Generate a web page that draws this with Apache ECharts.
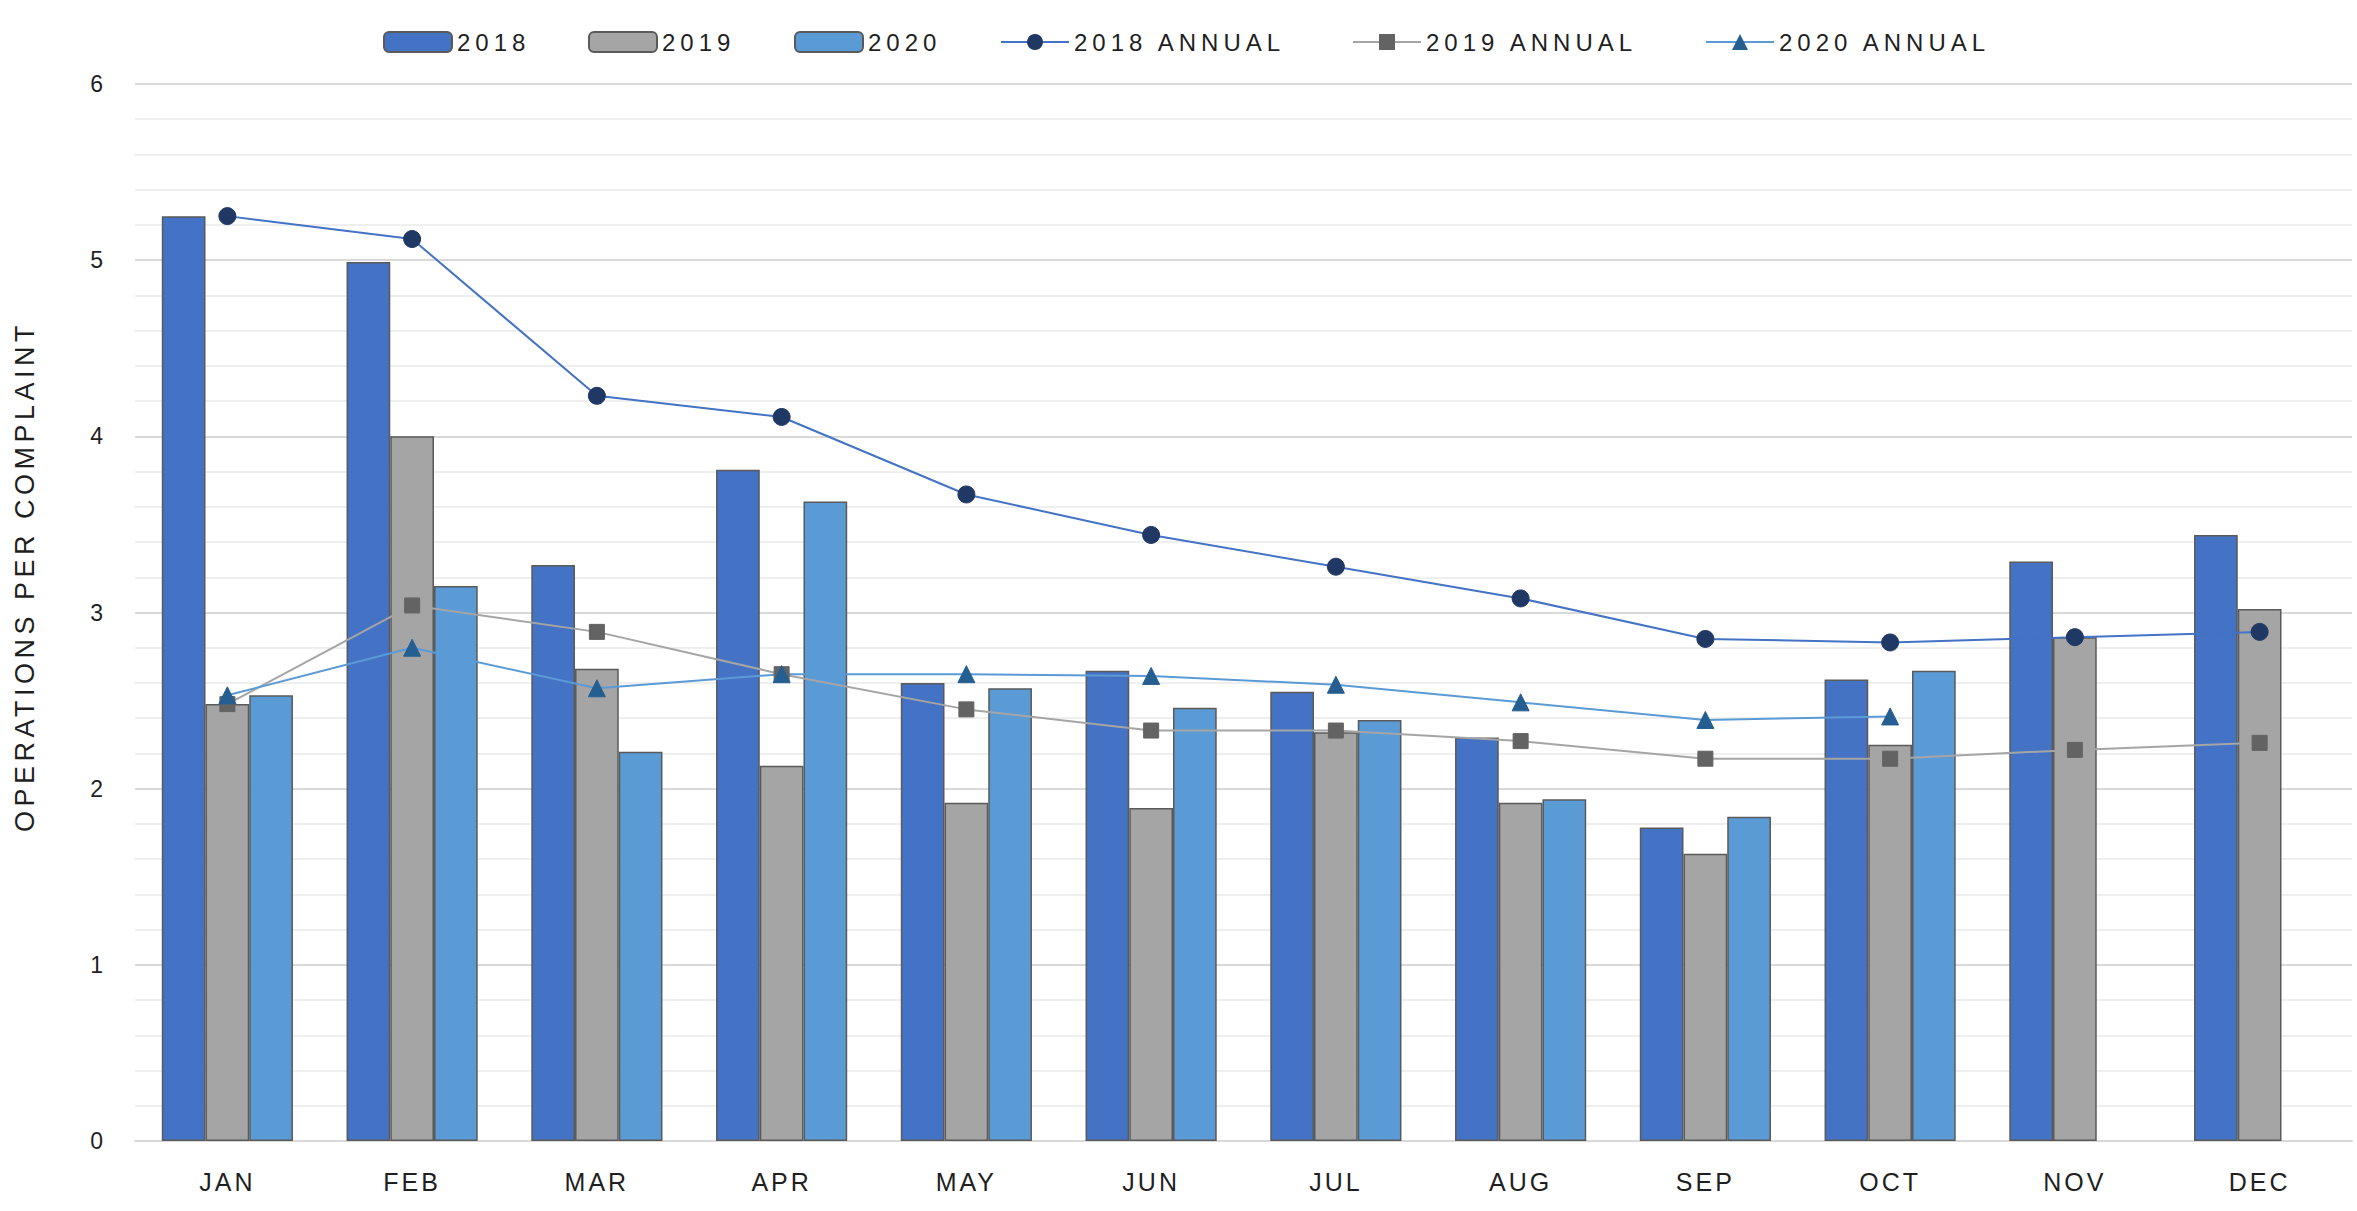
<!DOCTYPE html>
<html>
<head>
<meta charset="utf-8">
<script src="https://cdn.jsdelivr.net/npm/echarts@6/dist/echarts.min.js"></script>
<style>
  html, body { margin: 0; padding: 0; background: #ffffff; }
  #main { width: 2357px; height: 1211px; }
  #main text[style*="24px"] { letter-spacing: 5px; }
  #main text[style*="25px"] { letter-spacing: 3px; }
  #main text[style*="27px"] { letter-spacing: 4.5px; }
</style>
</head>
<body>
<div id="main"></div>
<script>
const categories = ['JAN','FEB','MAR','APR','MAY','JUN','JUL','AUG','SEP','OCT','NOV','DEC'];
const bar2018 = [5.25, 4.99, 3.27, 3.81, 2.60, 2.67, 2.55, 2.29, 1.78, 2.62, 3.29, 3.44];
const bar2019 = [2.48, 4.00, 2.68, 2.13, 1.92, 1.89, 2.32, 1.92, 1.63, 2.25, 2.86, 3.02];
const bar2020 = [2.53, 3.15, 2.21, 3.63, 2.57, 2.46, 2.39, 1.94, 1.84, 2.67, null, null];
const annual2018 = [5.25, 5.12, 4.23, 4.11, 3.67, 3.44, 3.26, 3.08, 2.85, 2.83, 2.86, 2.89];
const annual2019 = [2.48, 3.04, 2.89, 2.65, 2.45, 2.33, 2.33, 2.27, 2.17, 2.17, 2.22, 2.26];
const annual2020 = [2.53, 2.80, 2.57, 2.65, 2.65, 2.64, 2.59, 2.49, 2.39, 2.41, null, null];
const yTicks = [0, 1, 2, 3, 4, 5, 6];

const FONT = 'Liberation Sans';
const chart = echarts.init(document.getElementById('main'), null, { renderer: 'svg' });

const legendLefts = [378, 583, 789, 995, 1347, 1700];
const names = ['2018', '2019', '2020', '2018 ANNUAL', '2019 ANNUAL', '2020 ANNUAL'];
const legends = names.map((n, i) => ({
  data: [n],
  left: legendLefts[i],
  top: 25,
  itemWidth: 68,
  itemHeight: 20,
  selectedMode: false,
  textStyle: { fontFamily: FONT, fontSize: 24, color: '#1f1f1f' }
}));

function barSeries(name, data, color) {
  return {
    name, type: 'bar', data,
    barGap: '0%', barCategoryGap: '29%',
    itemStyle: { color, borderColor: '#5a5a5a', borderWidth: 1.5 },
    emphasis: { disabled: true }
  };
}
function lineSeries(name, data, lineColor, symbol, symColor, size) {
  return {
    name, type: 'line', data, symbol, symbolSize: size,
    lineStyle: { color: lineColor, width: 2 },
    itemStyle: { color: symColor, borderColor: symColor },
    connectNulls: false, z: 5,
    emphasis: { disabled: true }
  };
}

chart.setOption({
  animation: false,
  backgroundColor: '#ffffff',
  legend: legends,
  grid: { left: 135, right: 5, top: 84, bottom: 70 },
  xAxis: {
    type: 'category', data: categories,
    axisLine: { show: true, lineStyle: { color: '#d9d9d9', width: 2 } },
    axisTick: { show: false },
    axisLabel: { fontFamily: FONT, fontSize: 25, color: '#1f1f1f', margin: 28 }
  },
  yAxis: {
    type: 'value', min: yTicks[0], max: yTicks[yTicks.length - 1], interval: 1,
    name: 'OPERATIONS PER COMPLAINT',
    nameLocation: 'middle', nameGap: 97, nameRotate: 90,
    nameTextStyle: { fontFamily: FONT, fontSize: 27, color: '#1f1f1f', padding: [0, 0, 0, 72] },
    axisLine: { show: false }, axisTick: { show: false },
    axisLabel: { fontFamily: FONT, fontSize: 23, color: '#1f1f1f', margin: 32 },
    splitLine: { show: true, lineStyle: { color: '#d9d9d9', width: 2 } },
    minorTick: { show: false, splitNumber: 5 },
    minorSplitLine: { show: true, lineStyle: { color: '#efefef', width: 2 } }
  },
  series: [
    barSeries('2018', bar2018, '#4472C4'),
    barSeries('2019', bar2019, '#A5A5A5'),
    barSeries('2020', bar2020, '#5B9BD5'),
    lineSeries('2018 ANNUAL', annual2018, '#4472C4', 'circle', '#203864', 17),
    lineSeries('2019 ANNUAL', annual2019, '#A5A5A5', 'rect', '#636363', 15),
    lineSeries('2020 ANNUAL', annual2020, '#5B9BD5', 'triangle', '#255E91', 17)
  ]
});
</script>
</body>
</html>
